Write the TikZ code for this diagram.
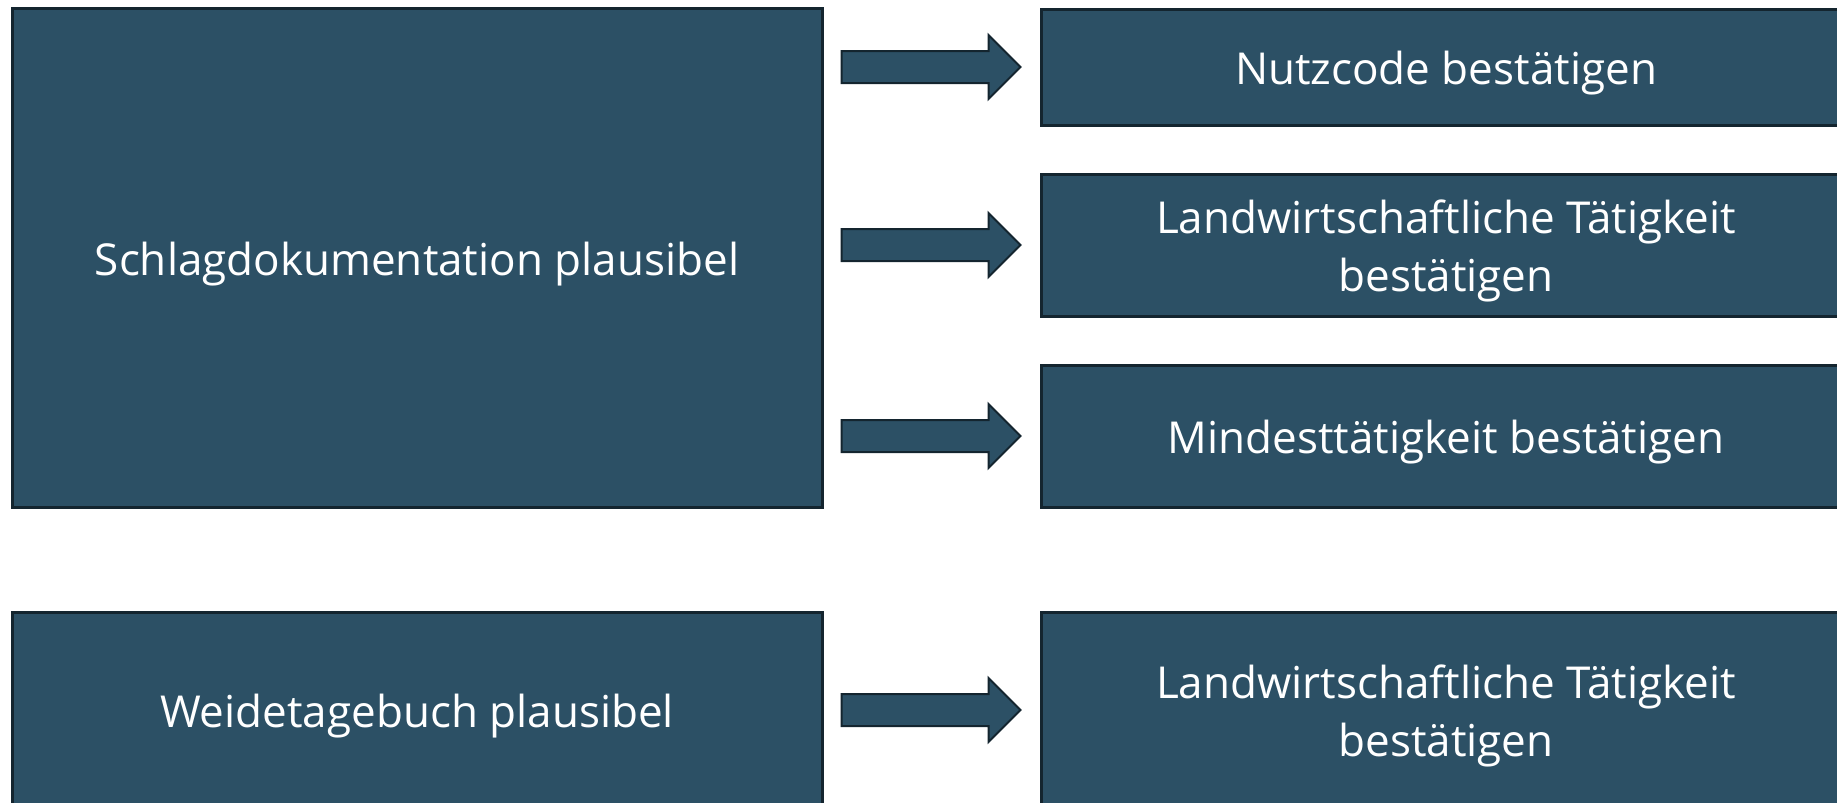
\documentclass[tikz,border=0pt]{standalone}
\usepackage{fontspec}
\setmainfont{Open Sans}
\usetikzlibrary{calc}
\definecolor{boxfill}{RGB}{44,80,101}
\definecolor{boxline}{RGB}{20,37,47}
\tikzset{
  box/.style={draw=boxline, fill=boxfill, line width=3pt, inner sep=0pt},
  boxtext/.style={text=white, font=\fontsize{44}{58}\selectfont, align=center, inner sep=0pt},
  fatarrow/.style={draw=boxline, fill=boxfill, line width=2pt, line join=miter}
}
\newcommand\fatarr[2]{%
  \coordinate (S) at (#1.east |- #2.west);
  \draw[fatarrow] ($(S)+(18,-16)$) -- ($(S)+(165,-16)$) -- ($(S)+(165,-32)$)
    -- ($(S)+(197,0)$) -- ($(S)+(165,32)$) -- ($(S)+(165,16)$)
    -- ($(S)+(18,16)$) -- cycle;}
\newcommand\boxlabel[2]{\node[boxtext] (#1-t) at ($(#1.center)+(0,6)$) {#2};}
\begin{document}
\begin{tikzpicture}[x=1pt,y=-1pt]
\useasboundingbox (0,0) rectangle (1837,803);
\clip (0,0) rectangle (1837,803);
\node[box, minimum width=810, minimum height=499] (schlag) at (417,258) {};
\node[box, minimum width=810, minimum height=196] (weide) at (417,710) {};
\node[box, minimum width=810, minimum height=116] (nutz) at (1446,67) {};
\node[box, minimum width=810, minimum height=142] (land1) at (1446,245) {};
\node[box, minimum width=810, minimum height=142] (mind) at (1446,436) {};
\node[box, minimum width=810, minimum height=196] (land2) at (1446,710) {};
\boxlabel{schlag}{Schlagdokumentation plausibel}
\boxlabel{weide}{Weidetagebuch plausibel}
\boxlabel{nutz}{Nutzcode bestätigen}
\boxlabel{land1}{Landwirtschaftliche Tätigkeit\\bestätigen}
\boxlabel{mind}{Mindesttätigkeit bestätigen}
\boxlabel{land2}{Landwirtschaftliche Tätigkeit\\bestätigen}
\fatarr{schlag}{nutz}
\fatarr{schlag}{land1}
\fatarr{schlag}{mind}
\fatarr{weide}{land2}
\end{tikzpicture}
\end{document}
